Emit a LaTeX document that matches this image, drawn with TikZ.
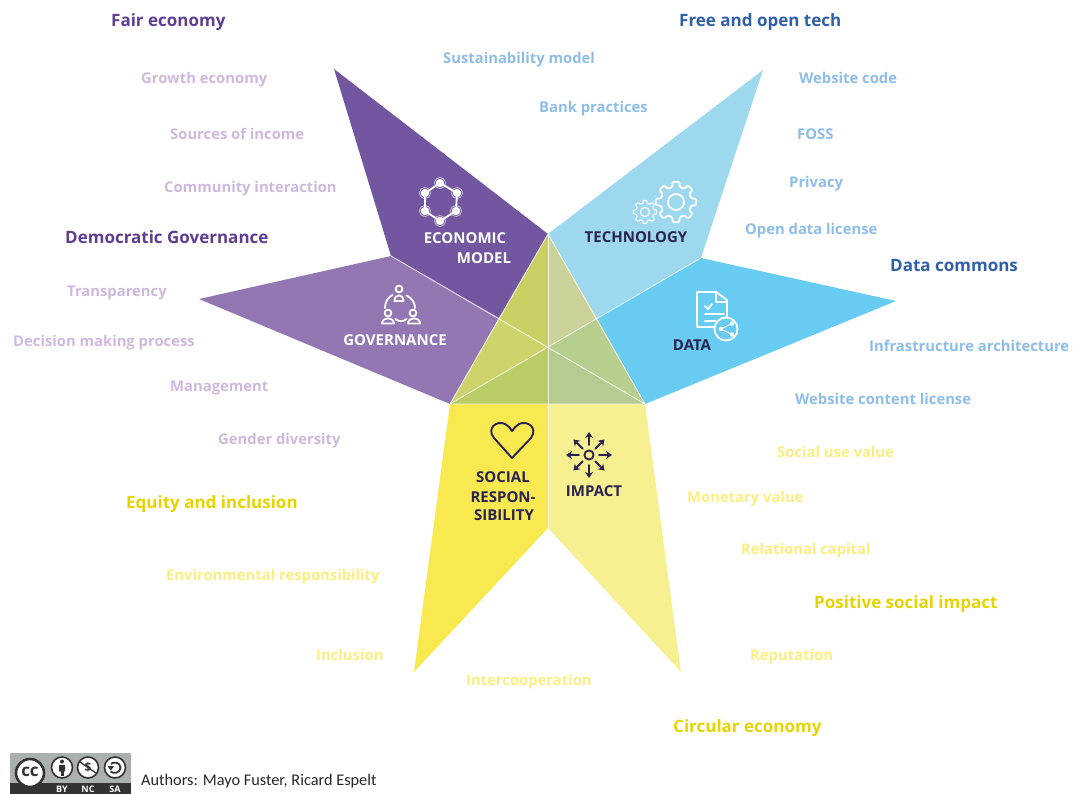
\documentclass[tikz,border=0pt]{standalone}
\usepackage{fontspec}
\setmainfont{Open Sans}
\newfontfamily\authorfont{Carlito}
\usetikzlibrary{arrows.meta,calc}
\definecolor{econ}{HTML}{7356A0}
\definecolor{gov}{HTML}{9377B2}
\definecolor{tech}{HTML}{9DD8EE}
\definecolor{dat}{HTML}{68CBF2}
\definecolor{soc}{HTML}{F8E950}
\definecolor{imp}{HTML}{F7F090}
\definecolor{ovA}{HTML}{C9CF63}
\definecolor{ovB}{HTML}{CAD29A}
\definecolor{ovC}{HTML}{CDD36A}
\definecolor{ovD}{HTML}{BACD67}
\definecolor{ovE}{HTML}{B6CB8F}
\definecolor{ovF}{HTML}{B6CE8E}
\definecolor{purH}{HTML}{5F3D92}
\definecolor{purL}{HTML}{CDB9DE}
\definecolor{bluH}{HTML}{2F5FA8}
\definecolor{bluL}{HTML}{8DBDE8}
\definecolor{yelH}{HTML}{E5D400}
\definecolor{yelL}{HTML}{FBEE80}
\definecolor{ink}{HTML}{2A2350}
\definecolor{badge}{HTML}{AAB0AD}
\definecolor{badgeD}{HTML}{333333}
\tikzset{
  headtxt/.style={anchor=west,inner sep=0pt,text height=17.4pt,text depth=4pt,font=\fontsize{17}{20}\selectfont\bfseries},
  itemtxt/.style={anchor=west,inner sep=0pt,text height=15pt,text depth=3pt,font=\fontsize{14.8}{18}\selectfont\bfseries},
  captxt/.style={inner sep=0pt,text height=11pt,text depth=0pt,font=\fontsize{15}{18}\selectfont\bfseries},
  seam/.style={draw=white,line width=0.9pt,draw opacity=0.75},
  icW/.style={draw=white,line width=1.8pt,line cap=round,line join=round},
  icK/.style={draw=ink,line width=1.9pt,line cap=round,line join=round},
  arr/.style={icK,-{Stealth[length=6pt,width=8pt]}},
}
\begin{document}
\begin{tikzpicture}[x=1pt,y=-1pt]
\useasboundingbox (0,0) rectangle (1073,794);
% corner points
\coordinate (C) at (548,347);
\coordinate (T) at (548,234);
\coordinate (L) at (450,404);
\coordinate (R) at (645,404);
\coordinate (B) at (548,404);
\coordinate (UL) at (499,318);
\coordinate (UR) at (597,318);
% petals
\fill[econ] (334,69) -- (T) -- (UL) -- (391,256) -- cycle;
\fill[gov] (199,299) -- (391,256) -- (UL) -- (L) -- cycle;
\fill[tech] (763,70) -- (701,258) -- (UR) -- (T) -- cycle;
\fill[dat] (896,301) -- (R) -- (UR) -- (701,258) -- cycle;
\fill[soc] (L) -- (B) -- (548,528) -- (414,672) -- cycle;
\fill[imp] (B) -- (R) -- (681,672) -- (548,528) -- cycle;
% overlaps
\fill[ovA] (T) -- (UL) -- (C) -- cycle;
\fill[ovB] (T) -- (UR) -- (C) -- cycle;
\fill[ovC] (UL) -- (L) -- (C) -- cycle;
\fill[ovD] (L) -- (B) -- (C) -- cycle;
\fill[ovE] (B) -- (R) -- (C) -- cycle;
\fill[ovF] (R) -- (UR) -- (C) -- cycle;
% seams
\draw[seam] (T) -- (L) -- (R) -- cycle;
\draw[seam] (T) -- (548,528);
\draw[seam] (391,256) -- (R);
\draw[seam] (701,258) -- (L);
% petal captions
\node[captxt,text=white] (capEc) at (465,238) {ECONOMIC};
\node[captxt,text=white] (capMo) at (484,258) {MODEL};
\node[captxt,text=white] (capGo) at (395,340) {GOVERNANCE};
\node[captxt,text=ink] (capTe) at (636,237) {TECHNOLOGY};
\node[captxt,text=ink] (capDa) at (692,345) {DATA};
\node[captxt,text=ink] (capSo) at (503,477) {SOCIAL};
\node[captxt,text=ink] (capRe) at (503,497) {RESPON-};
\node[captxt,text=ink] (capSi) at (504,515) {SIBILITY};
\node[captxt,text=ink] (capIm) at (594,491) {IMPACT};
% network icon
\draw[icW] (440,183) -- (457,193) -- (456,211) -- (440,221) -- (425,211) -- (425,193) -- cycle;
\foreach \p in {(440,183),(457,193),(456,211),(440,221),(425,211),(425,193)}{
  \fill[white] \p circle (4.2);
  \draw[draw=white,draw opacity=0.6,line width=0.8pt] \p circle (5.6);
}
% gears icon
\begin{scope}[shift={(676,202)}]
\draw[icW,rounded corners=1.2pt] (-14:15.5)
  \foreach \a in {0,45,...,315}{ -- (\a-14:15.5) -- (\a-9:20.5) -- (\a+9:20.5) -- (\a+14:15.5) } -- cycle;
\draw[icW] (0,0) circle (8);
\end{scope}
\begin{scope}[shift={(645,212)}]
\draw[draw=white,line width=1.1pt,line join=round,rounded corners=0.7pt] (-14:9)
  \foreach \a in {0,45,...,315}{ -- (\a-14:9) -- (\a-9:11.8) -- (\a+9:11.8) -- (\a+14:9) } -- cycle;
\draw[draw=white,line width=1.1pt] (0,0) circle (4.6);
\end{scope}
% governance icon
\draw[icW] (399,289) circle (3.4);
\draw[icW] (394.5,301) .. controls (394.5,293.5) and (403.5,293.5) .. (403.5,301) -- cycle;
\draw[icW] (388,313) circle (3.4);
\draw[icW] (382,323.5) .. controls (382,316.5) and (394,316.5) .. (394,323.5) -- cycle;
\draw[icW] (413,313) circle (3.4);
\draw[icW] (408,323.5) .. controls (408,316.5) and (420,316.5) .. (420,323.5) -- cycle;
\draw[icW] (385,308) .. controls (385,302) and (388,297) .. (392.5,295);
\draw[icW] (415,308) .. controls (415,303) and (412,298) .. (406.5,295.5);
\draw[icW] (395.5,319) .. controls (399,322) and (403,322) .. (406.5,319);
% data icon
\draw[icW] (727,318) -- (727,300) -- (716,292) -- (697,292) -- (697,327) -- (714,327);
\draw[icW] (716,292) -- (716,302) -- (727,302);
\draw[icW] (705,306) -- (708,309) -- (712,304);
\draw[icW] (705,314) -- (724,314);
\draw[icW] (705,321) -- (716,321);
\draw[icW,fill=dat] (726,329) circle (11.5);
\draw[draw=white,line width=1pt] (732,323.5) -- (721,329) -- (732,334.5);
\foreach \p in {(732,323.5),(721,329),(732,334.5)} \fill[white] \p circle (2.2);
% heart icon
\draw[icK] (512,458) -- (494,438) .. controls (486,428) and (497,420) .. (505,424)
  .. controls (508,426) and (511,428) .. (512,431)
  .. controls (514,428) and (516,426) .. (519,424)
  .. controls (528,420) and (538,428) .. (531,438) -- cycle;
% impact icon
\coordinate (ImpC) at (589,455);
\draw[icK] (ImpC) circle (4.6);
\foreach \a/\r in {0/23,90/23,180/23,270/23,45/22,135/22,225/22,315/22}
  \draw[arr] ($(ImpC)+(\a:\r-13)$) -- ($(ImpC)+(\a:\r)$);
% texts
\node[headtxt,text=purH] (t1) at (111,20) {Fair economy};
\node[itemtxt,text=purL] (t2) at (141,78) {Growth economy};
\node[itemtxt,text=purL] (t3) at (170,134) {Sources of income};
\node[itemtxt,text=purL] (t4) at (164,187) {Community interaction};
\node[headtxt,text=purH] (t5) at (65,237) {Democratic Governance};
\node[itemtxt,text=purL] (t6) at (67,290) {Transparency};
\node[itemtxt,text=purL] (t7) at (13,340) {Decision making process};
\node[itemtxt,text=purL] (t8) at (170,385) {Management};
\node[itemtxt,text=purL] (t9) at (218,438) {Gender diversity};
\node[headtxt,text=bluH] (t10) at (679,20) {Free and open tech};
\node[itemtxt,text=bluL] (t11) at (443,58) {Sustainability model};
\node[itemtxt,text=bluL] (t12) at (539,107) {Bank practices};
\node[itemtxt,text=bluL] (t13) at (799,78) {Website code};
\node[itemtxt,text=bluL] (t14) at (797,134) {FOSS};
\node[itemtxt,text=bluL] (t15) at (789,182) {Privacy};
\node[itemtxt,text=bluL] (t16) at (745,229) {Open data license};
\node[headtxt,text=bluH] (t17) at (890,265) {Data commons};
\node[itemtxt,text=bluL] (t18) at (869,345) {Infrastructure architecture};
\node[itemtxt,text=bluL] (t19) at (795,398) {Website content license};
\node[itemtxt,text=yelL] (t20) at (777,451) {Social use value};
\node[itemtxt,text=yelL] (t21) at (687,496) {Monetary value};
\node[itemtxt,text=yelL] (t22) at (741,548) {Relational capital};
\node[headtxt,text=yelH] (t23) at (814,602) {Positive social impact};
\node[itemtxt,text=yelL] (t24) at (750,654) {Reputation};
\node[headtxt,text=yelH] (t25) at (673,726) {Circular economy};
\node[itemtxt,text=yelL] (t26) at (466,679) {Intercooperation};
\node[itemtxt,text=yelL] (t27) at (316,654) {Inclusion};
\node[itemtxt,text=yelL] (t28) at (166,574) {Environmental responsibility};
\node[headtxt,text=yelH] (t29) at (126,502) {Equity and inclusion};
\node[anchor=west,inner sep=0pt,font=\authorfont\fontsize{16.3}{20}\selectfont,text=black!85] (t30) at (141,781) {Authors: Mayo Fuster, Ricard Espelt};
% CC badge
\fill[badge,rounded corners=1pt] (10,753) rectangle (131,794);
\fill[badgeD] (10,783) rectangle (131,794);
\draw[draw=badgeD,fill=white,line width=2.6pt] (30,773) circle (14);
\node[inner sep=0pt,font=\fontsize{17}{18}\selectfont\bfseries,text=badgeD] (bCC) at (30,771.5) {cc};
\foreach \x in {62,88,115} \draw[draw=badgeD,fill=white,line width=1.6pt] (\x,767.5) circle (10.5);
\fill[badgeD] (62,761.5) circle (2);
\fill[badgeD,rounded corners=0.6pt] (59,765) rectangle (65,771.5);
\fill[badgeD] (60.5,771) rectangle (63.5,776);
\draw[badgeD,line width=1.3pt] (80,762) -- (96,773);
\node[inner sep=0pt,font=\fontsize{12}{13}\selectfont\bfseries,text=badgeD] (bUS) at (88,767.5) {\$};
\draw[badgeD,line width=1.8pt] (111,764) .. controls (113,761.5) and (120.5,762) .. (120.5,767.5) .. controls (120.5,773.5) and (113,774) .. (110.5,771.5);
\fill[badgeD] (107.5,766) -- (114,766) -- (110.8,770.5) -- cycle;
\node[inner sep=0pt,font=\fontsize{9}{10}\selectfont\bfseries,text=white] (bBY) at (62,789) {BY};
\node[inner sep=0pt,font=\fontsize{9}{10}\selectfont\bfseries,text=white] (bNC) at (88,789) {NC};
\node[inner sep=0pt,font=\fontsize{9}{10}\selectfont\bfseries,text=white] (bSA) at (115,789) {SA};
\end{tikzpicture}
\end{document}
